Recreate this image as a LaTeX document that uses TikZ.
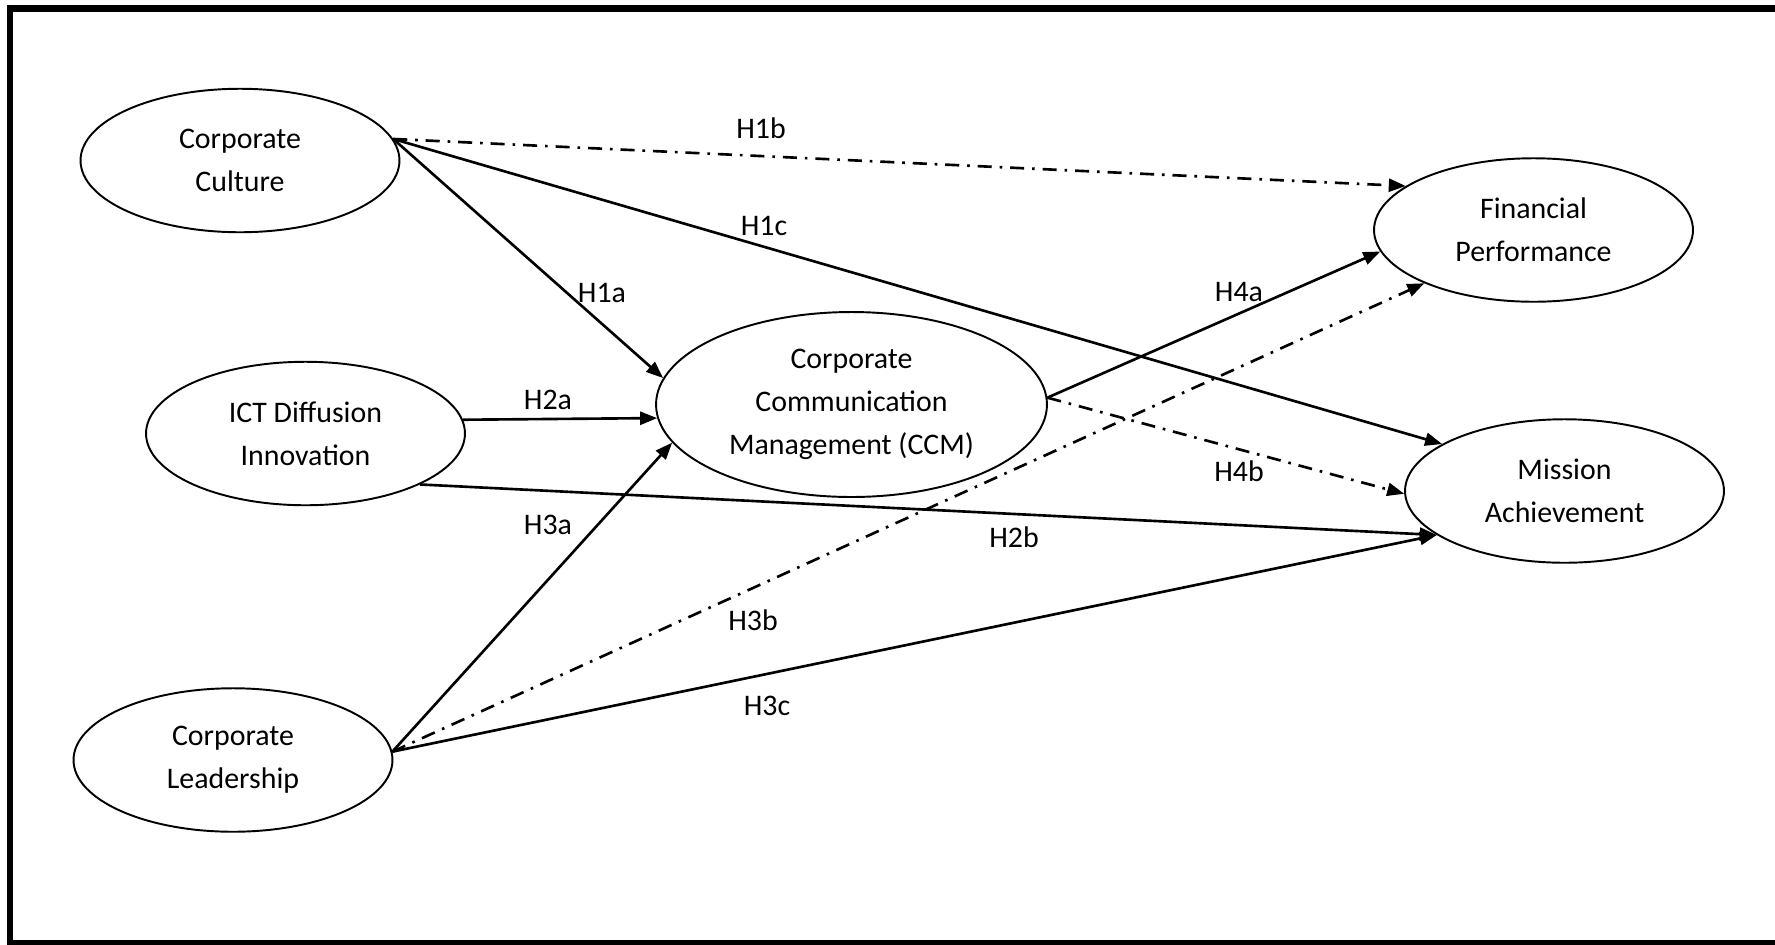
\documentclass[tikz,border=0pt]{standalone}
\usepackage{fontspec}
\setmainfont{Carlito}
\usetikzlibrary{shapes.geometric,arrows.meta}

\tikzset{
  construct/.style={ellipse, draw, line width=1.1pt, minimum width=6.38cm,
    minimum height=2.87cm, inner sep=0pt, align=center,
    font=\fontsize{17}{24.5}\selectfont},
  hyp/.style={inner sep=0pt, font=\fontsize{17}{20}\selectfont},
  link/.style={line width=1.5pt, -{Triangle[length=3.4mm,width=2.6mm]}},
  indirect/.style={link, dash pattern=on 8pt off 4.5pt on 1.5pt off 4.5pt}
}

\begin{document}
\begin{tikzpicture}[x=0.02cm, y=-0.02cm]
  \useasboundingbox (0,0) rectangle (1775,944);
  % Outer frame
  \draw[line width=0.14cm] (10,8.5) rectangle (1779,943.5);

  % Constructs
  \node[construct] (cult) at (240,160.5) {Corporate\\Culture};
  \node[construct] (ict) at (305.5,433.5) {ICT Diffusion\\Innovation};
  \node[construct] (lead) at (233,760) {Corporate\\Leadership};
  \node[construct, minimum width=7.82cm, minimum height=3.7cm] (ccm) at (851.5,404.5)
    {Corporate\\Communication\\Management (CCM)};
  \node[construct] (fin) at (1533.5,230) {Financial\\Performance};
  \node[construct] (mis) at (1564.5,491) {Mission\\Achievement};

  % Direct paths (solid)
  \foreach \s/\t in {cult.8/ccm.172, cult.8/mis.159, ict.5/ccm.184, ict.-24/mis.199,
                     lead.3/ccm.192, lead.3/mis.199, ccm.2/fin.188} {
    \draw[link] (\s) -- (\t);
  }

  % Indirect paths (dash dot)
  \foreach \s/\t in {cult.8/fin.161, lead.3/fin.206, ccm.2/mis.181} {
    \draw[indirect] (\s) -- (\t);
  }

  % Hypothesis labels
  \node[hyp] (h1a) at (602,293) {H1a};
  \node[hyp] (h1b) at (761,128) {H1b};
  \node[hyp] (h1c) at (764,226) {H1c};
  \node[hyp] (h2a) at (548,400) {H2a};
  \node[hyp] (h2b) at (1014,537) {H2b};
  \node[hyp] (h3a) at (548,525) {H3a};
  \node[hyp] (h3b) at (753,620) {H3b};
  \node[hyp] (h3c) at (767,706) {H3c};
  \node[hyp] (h4a) at (1239,292) {H4a};
  \node[hyp] (h4b) at (1239,471) {H4b};

\end{tikzpicture}
\end{document}
